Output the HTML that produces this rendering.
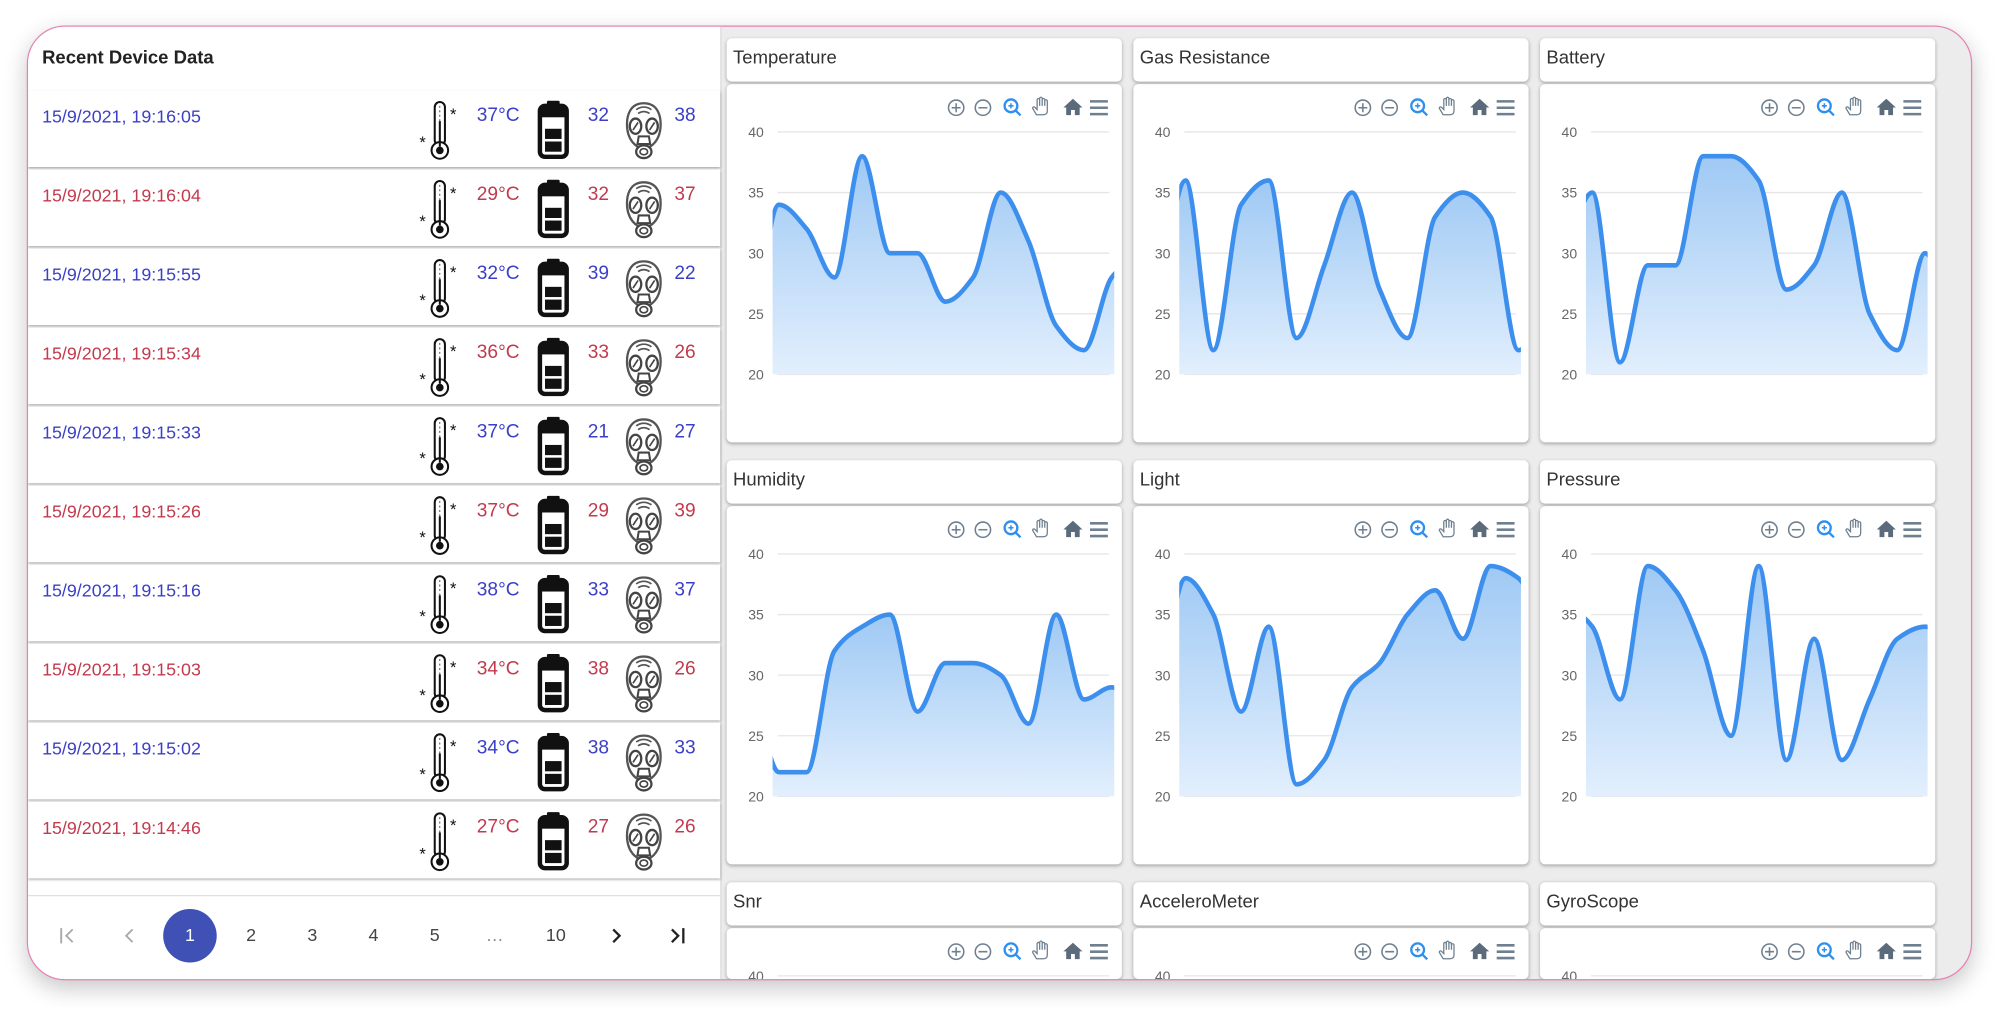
<!DOCTYPE html>
<html><head><meta charset="utf-8">
<style>
html,body{margin:0;padding:0;width:1999px;height:1009px;overflow:hidden;background:#fff;font-family:"Liberation Sans",sans-serif;}
#root{position:absolute;left:0;top:0;width:1568px;height:790px;overflow:hidden;transform:scale(1.27487);transform-origin:0 0;}
#frame{position:absolute;left:21px;top:20px;width:1524px;height:747px;border:1.5px solid #e584b2;border-radius:30px;overflow:hidden;background:#ececec;box-shadow:0 6px 18px rgba(0,0,0,.22);}
#left{position:absolute;left:0;top:0;width:543px;height:747px;background:#fff;border-right:1px solid #d8d8d8;}
.title{position:absolute;left:11px;top:17px;font-weight:bold;font-size:14.5px;color:#222;}
.row{position:absolute;left:0;width:543px;height:60px;background:#fff;box-shadow:0 1px 2px rgba(0,0,0,.35);}
.date{position:absolute;left:11px;top:12px;font-size:14px;}
.val{position:absolute;top:11px;font-size:15px;}
.pg{position:absolute;top:704px;width:30px;margin-left:-15px;text-align:center;font-size:14px;color:#444;}
.card{position:absolute;background:#fff;border-radius:4px;box-shadow:0 1px 3px rgba(0,0,0,.3);overflow:hidden;}
.hdr{font-size:14.5px;color:#333;}
.hdr span{position:absolute;left:5px;top:8px;}
</style></head>
<body>
<div id="root">
<div id="frame">
 <div id="left">
  <div class="title">Recent Device Data</div>
  <div id="rows"></div>
  <div style="position:absolute;left:0;top:681px;width:543px;height:1px;background:#e0e0e0"></div>
  <div id="pager"></div>
 </div>
 <div id="charts"></div>
</div>
</div>
<script>
const dates=["15/9/2021, 19:16:05","15/9/2021, 19:16:04","15/9/2021, 19:15:55","15/9/2021, 19:15:34","15/9/2021, 19:15:33","15/9/2021, 19:15:26","15/9/2021, 19:15:16","15/9/2021, 19:15:03","15/9/2021, 19:15:02","15/9/2021, 19:14:46"];
const temps=[37,29,32,36,37,37,38,34,34,27];
const batts=[32,32,39,33,21,29,33,38,38,27];
const gases=[38,37,22,26,27,39,37,26,33,26];

const chartTitles=["Temperature","Gas Resistance","Battery","Humidity","Light","Pressure","Snr","AcceleroMeter","GyroScope"];
const temperatureData=[22,34,32,28,38,30,30,26,28,35,31,24,22,28,30];
const gasData=[26,36,22,34,36,23,29,35,27,23,33,35,33,22,25];
const batteryData=[30,35,21,29,29,38,38,36,27,29,35,25,22,30,24];
const humidityData=[30,22,22,32,34,35,27,31,31,30,26,35,28,29,27];
const lightData=[28,38,35,27,34,21,23,29,31,35,37,33,39,38,33];
const pressureData=[36,34,28,39,37,32,25,39,23,33,23,28,33,34,33];
const yTicks=[40,35,30,25,20];
const seriesList=[temperatureData,gasData,batteryData,humidityData,lightData,pressureData,null,null,null];

const NS="http://www.w3.org/2000/svg";
function svgEl(tag,attrs){const e=document.createElementNS(NS,tag);for(const k in attrs)e.setAttribute(k,attrs[k]);return e;}

const rowsEl=document.getElementById('rows');
const thermo='<svg width="34" height="50" viewBox="0 0 34 50" style="position:absolute;left:306px;top:6px"><rect x="13" y="3" width="8" height="34" rx="4" fill="#fff" stroke="#111" stroke-width="1.6"/><circle cx="17" cy="41" r="6.5" fill="#fff" stroke="#111" stroke-width="1.6"/><circle cx="17" cy="41" r="3" fill="#111"/><line x1="17" y1="18" x2="17" y2="38" stroke="#111" stroke-width="1.6"/><line x1="17" y1="6" x2="17" y2="30" stroke="#111" stroke-width="0.6" stroke-dasharray="1.5 2"/><text x="25" y="17" font-size="13" font-family="Liberation Sans" fill="#111">*</text><text x="1" y="39" font-size="13" font-family="Liberation Sans" fill="#111">*</text></svg>';
const battery='<svg width="28" height="48" viewBox="0 0 28 48" style="position:absolute;left:398px;top:7px"><rect x="9" y="1" width="10" height="5" rx="1" fill="#111"/><rect x="3.5" y="5" width="21" height="40" rx="4" fill="#fff" stroke="#111" stroke-width="3.5"/><rect x="4" y="6" width="20" height="8" fill="#111"/><rect x="7.5" y="23" width="13" height="8" fill="#111"/><rect x="7.5" y="33" width="13" height="8" fill="#111"/></svg>';
const mask='<svg width="34" height="50" viewBox="0 0 34 50" style="position:absolute;left:466px;top:6px"><path d="M17 4 C6 4 3 14 4 24 C5 32 9 36 12 38 L22 38 C25 36 29 32 30 24 C31 14 28 4 17 4Z" fill="#fff" stroke="#555" stroke-width="1.8"/><path d="M11 9 Q17 5 23 9 M12.5 12 Q17 9 21.5 12" fill="none" stroke="#555" stroke-width="1.3"/><ellipse cx="10.5" cy="22" rx="4.5" ry="6" fill="#fff" stroke="#444" stroke-width="1.8"/><ellipse cx="23.5" cy="22" rx="4.5" ry="6" fill="#fff" stroke="#444" stroke-width="1.8"/><line x1="8.5" y1="25" x2="12.5" y2="19" stroke="#444" stroke-width="1.3"/><line x1="21.5" y1="25" x2="25.5" y2="19" stroke="#444" stroke-width="1.3"/><path d="M13 30 L21 30 L22 36 L12 36Z" fill="#fff" stroke="#444" stroke-width="1.6"/><ellipse cx="17" cy="42" rx="6" ry="5" fill="#fff" stroke="#444" stroke-width="1.8"/><ellipse cx="17" cy="42" rx="3" ry="2.4" fill="none" stroke="#444" stroke-width="1.3"/></svg>';
for(let i=0;i<dates.length;i++){
  const c=i%2===0?'#3b3fc7':'#c23a4d';
  const r=document.createElement('div');
  r.className='row';r.style.top=(50+62*i)+'px';
  
  
  r.innerHTML='<div class="date" style="color:'+c+'">'+dates[i]+'</div>'+
   '<span>'+thermo+'</span>'+
   '<div class="val" style="left:352px;color:'+c+'">'+temps[i]+'°C</div>'+
   '<span>'+battery+'</span>'+
   '<div class="val" style="left:439px;color:'+c+'">'+batts[i]+'</div>'+
   '<span>'+mask+'</span>'+
   '<div class="val" style="left:507px;color:'+c+'">'+gases[i]+'</div>';
  rowsEl.appendChild(r);
}
const pager=document.getElementById('pager');
const circ=document.createElement('div');
circ.style.cssText='position:absolute;left:106px;top:692px;width:42px;height:42px;border-radius:50%;background:#3f51b5';


pager.appendChild(circ);
const arrows=[
 [32,'first-page-button','<path d="M2 2v12M11 3l-5 5 5 5" fill="none" stroke="#aaa" stroke-width="1.5"/>'],
 [80,'previous-page-button','<path d="M10 3l-5 5 5 5" fill="none" stroke="#aaa" stroke-width="1.5"/>'],
 [461,'next-page-button','<path d="M6 3l5 5-5 5" fill="none" stroke="#222" stroke-width="1.8"/>'],
 [509,'last-page-button','<path d="M4 3l5 5-5 5M13 2v12" fill="none" stroke="#222" stroke-width="1.8"/>']];
arrows.forEach(a=>{const d=document.createElement('div');
 d.style.cssText='position:absolute;left:'+(a[0]-8)+'px;top:705px;width:16px;height:16px';
 d.innerHTML='<svg width="16" height="16">'+a[2]+'</svg>';
 
 
 pager.appendChild(d);});
const pgItems=[["1",127,"page-1-button","#fff"],["2",175,"page-2-button","#444"],["3",223,"page-3-button","#444"],["4",271,"page-4-button","#444"],["5",319,"page-5-button","#444"],["…",366,"page-ellipsis","#888"],["10",414,"page-10-button","#444"]];
pgItems.forEach(p=>{const d=document.createElement('div');d.className='pg';d.style.left=p[1]+'px';d.style.color=p[3];
 d.textContent=p[0];
 
 
 pager.appendChild(d);});

const chartsEl=document.getElementById('charts');
const colX=[548,867,1186], rowY=[9,340,671];
const xOf=i=>41+21.75*(i-1);
const yOf=v=>227.7-(v-20)*9.51;
function monotonePath(pts){
  const n=pts.length,dx=[],m=[],t=[];
  for(let i=0;i<n-1;i++){dx[i]=pts[i+1][0]-pts[i][0];m[i]=(pts[i+1][1]-pts[i][1])/dx[i];}
  t[0]=m[0];t[n-1]=m[n-2];
  for(let i=1;i<n-1;i++){if(m[i-1]*m[i]<=0)t[i]=0;else{t[i]=3*(dx[i-1]+dx[i])/((2*dx[i]+dx[i-1])/m[i-1]+(dx[i]+2*dx[i-1])/m[i]);}}
  let d='M'+pts[0][0]+','+pts[0][1];
  for(let i=0;i<n-1;i++){const h=dx[i]/3;d+=' C'+(pts[i][0]+h)+','+(pts[i][1]+t[i]*h)+' '+(pts[i+1][0]-h)+','+(pts[i+1][1]-t[i+1]*h)+' '+pts[i+1][0]+','+pts[i+1][1];}
  return d;
}
const toolbarSvg='<g fill="none" stroke="#6e7f8f" stroke-width="1.2"><circle cx="180" cy="18.5" r="6"/><path d="M176.5 18.5h7M180 15v7"/><circle cx="201" cy="18.5" r="6"/><path d="M197.5 18.5h7"/></g>'+
 '<g fill="none" stroke="#2e8ff0" stroke-width="1.8"><circle cx="223" cy="17" r="5"/><path d="M226.5 20.5l4 4"/><path d="M221 17h4M223 15v4" stroke-width="1.2"/></g>'+
 '<path d="M243 24 l-3-5 q0-1.5 1.5-1 l2 2 v-8 q1-1.5 2 0 v5 v-6 q1-1.5 2 0 v6 v-5 q1-1.5 2 0 v5 v-4 q1-1.5 2 0 v8 q0 3-3 3z" fill="#fff" stroke="#6e7f8f" stroke-width="1"/>'+
 '<path d="M271.6 11.5 l-7.5 6.8 h2.2 v6 h3.8 v-4 h3 v4 h3.8 v-6 h2.2z" fill="#5b6b7b"/>'+
 '<path d="M285 13.5h14M285 18.5h14M285 23.5h14" stroke="#6e7f8f" stroke-width="2"/>';
chartTitles.forEach((title,k)=>{
  const cx=colX[k%3], cy=rowY[Math.floor(k/3)];
  const slug=title.toLowerCase().replace(/\s+/g,'-');
  const cardH=Math.min(281,747-(cy+36));
  const h=document.createElement('div');
  h.className='card hdr';h.style.cssText='left:'+cx+'px;top:'+cy+'px;width:310px;height:34px';
  
  
  h.innerHTML='<span>'+title+'</span>';
  chartsEl.appendChild(h);
  const c=document.createElement('div');
  c.className='card';c.style.cssText='left:'+cx+'px;top:'+(cy+36)+'px;width:310px;height:'+cardH+'px';
  
  
  const svg=svgEl('svg',{width:310,height:cardH,viewBox:'0 0 310 '+cardH,style:'display:block'});
  svg.innerHTML='<defs><linearGradient id="g'+k+'" x1="0" y1="0" x2="0" y2="1"><stop offset="0" stop-color="#9fc9f4"/><stop offset="1" stop-color="#e2effd"/></linearGradient><clipPath id="c'+k+'"><rect x="36" y="0" width="268" height="240"/></clipPath></defs>';
  const tb=svgEl('g',{});tb.innerHTML=toolbarSvg;
  
  
  svg.appendChild(tb);
  yTicks.forEach(v=>{
    if(yOf(v)>cardH+5)return;
    const ln=svgEl('line',{x1:40,x2:300,y1:yOf(v),y2:yOf(v),stroke:'#e6e6e6','stroke-width':1});
    
    
    svg.appendChild(ln);
    const t=svgEl('text',{x:23,y:yOf(v)+4,'text-anchor':'middle','font-size':11,fill:'#666','font-family':'Liberation Sans'});
    t.textContent=v;
    
    
    svg.appendChild(t);
  });
  const data=seriesList[k];
  if(data){
    const pts=data.map((v,i)=>[xOf(i),yOf(v)]);
    const line=monotonePath(pts);
    const area=svgEl('path',{d:line+' L'+pts[pts.length-1][0]+','+yOf(20)+' L'+pts[0][0]+','+yOf(20)+'Z',fill:'url(#g'+k+')','clip-path':'url(#c'+k+')'});
    
    
    svg.appendChild(area);
    const pl=svgEl('path',{d:line,fill:'none',stroke:'#3d8fee','stroke-width':3.6,'clip-path':'url(#c'+k+')'});
    
    
    svg.appendChild(pl);
  }
  c.appendChild(svg);
  chartsEl.appendChild(c);
});
</script>
</body></html>
